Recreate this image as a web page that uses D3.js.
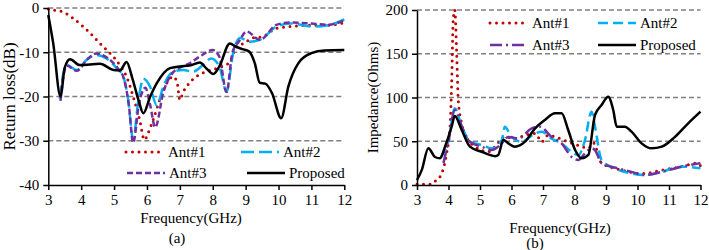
<!DOCTYPE html>
<html>
<head>
<meta charset="utf-8">
<script src="https://cdn.jsdelivr.net/npm/d3@7"></script>
<style>
    body { margin: 0; background: #fff; }
    text { font-family: "Liberation Serif", "Times New Roman", serif; fill: #000; }
    .grid line { stroke: #808080; stroke-dasharray: 5 3; stroke-width: 1.3; }
    .axis path, .axis line { stroke: #000; stroke-width: 1.5; }
</style>
</head>
<body>
<svg id="chart" width="709" height="250"></svg>
<script>
'use strict';

// Series names
const seriesNames = ['Ant#1', 'Ant#2', 'Ant#3', 'Proposed'];

// (a) Return loss (dB), [GHz, dB]
const rlAnt1 = [[3, -0.2], [3.2, -0.5], [3.45, -0.9], [3.75, -2.3], [4.06, -4.2], [4.3, -5.9], [4.57, -8], [4.8, -9.7],
    [4.98, -11], [5.2, -13.2], [5.38, -15.5], [5.58, -20], [5.78, -25.3], [5.92, -29.8], [6.05, -28], [6.2, -25],
    [6.4, -20.5], [6.6, -17], [6.8, -15.5], [6.92, -17], [7.0, -20.8], [7.1, -19], [7.2, -17.8], [7.5, -15.5],
    [7.8, -14.4], [8.1, -13.7], [8.3, -13.2], [8.52, -12.1], [8.73, -8.7], [8.98, -7.9], [9.18, -6.8],
    [9.5, -6.5], [9.94, -4.6], [10.35, -4.2], [11.05, -3.9], [11.5, -3.9], [12, -3.3]];
const rlAnt2 = [[3.35, -20.5], [3.45, -15], [3.56, -12.9], [3.86, -14], [4.17, -11.7], [4.47, -10.6], [4.77, -11.4],
    [5.08, -13.6], [5.28, -15.5], [5.43, -20.8], [5.58, -29.8], [5.74, -20.8], [5.89, -16], [6.09, -17.7],
    [6.3, -22], [6.5, -17.7], [6.8, -14.4], [7.1, -14], [7.4, -14.4], [7.7, -12.9], [7.95, -11.4], [8.2, -13.2],
    [8.42, -18.9], [8.62, -10.2], [8.83, -6.8], [9.13, -7.6], [9.43, -7.2], [9.94, -4.2], [10.35, -3.5],
    [11.05, -4.2], [11.5, -3.9], [12, -2.6]];
const rlAnt3 = [[3.37, -21], [3.47, -15], [3.56, -13], [3.86, -14.2], [4.2, -11.5], [4.45, -10.3], [4.8, -11.3],
    [5.1, -13.5], [5.3, -16], [5.45, -22], [5.58, -30.5], [5.75, -22], [5.95, -18], [6.1, -22], [6.25, -27],
    [6.5, -19], [6.8, -14.5], [7.0, -13.5], [7.3, -12.5], [7.6, -11], [8.0, -9.5], [8.2, -11], [8.42, -19],
    [8.6, -10], [8.8, -7.5], [9.03, -5.3], [9.43, -7.2], [9.94, -3.8], [10.35, -3.3], [11.0, -3.5],
    [11.5, -3.8], [12, -2.8]];
const rlProp = [[3, -1.6], [3.15, -8], [3.37, -20], [3.5, -13.5], [3.66, -11.6], [3.96, -12.9], [4.57, -12.6],
    [4.98, -14], [5.18, -14.1], [5.38, -12.2], [5.56, -16], [5.75, -21], [5.89, -23.8], [6.1, -20], [6.3, -17],
    [6.7, -13.6], [7.0, -13.2], [7.3, -13], [7.61, -12.3], [7.8, -13.6], [8.02, -14.9], [8.2, -13.2],
    [8.52, -8], [8.7, -8.7], [8.9, -9.3], [9.1, -9.8], [9.28, -12.5], [9.43, -16.9], [9.6, -17.1],
    [9.8, -19.2], [10.08, -24.9], [10.3, -17.7], [10.6, -12.5], [11.0, -10.2], [11.4, -9.6], [12, -9.5]];

// (b) Impedance (Ohms), [GHz, Ohms]
const zAnt1 = [[3, 1], [3.47, 1], [3.57, 4], [3.78, 13], [3.94, 36], [4.05, 67], [4.1, 116], [4.15, 189],
    [4.2, 200], [4.26, 150], [4.31, 97], [4.42, 70], [4.63, 51], [4.84, 44], [5.26, 38], [5.48, 44],
    [5.79, 55], [6.11, 53], [6.43, 57], [6.75, 59], [6.96, 49.5], [7.17, 57], [7.38, 55], [7.8, 49.5],
    [8.23, 44], [8.44, 42], [8.6, 48], [8.86, 25], [9.5, 17], [10.13, 13], [10.77, 17], [11.4, 21],
    [11.9, 25], [12, 22]];
const zAnt2 = [[3.75, 32], [4.0, 51], [4.2, 87.6], [4.42, 67], [4.68, 49.5], [5.05, 45.7], [5.37, 42],
    [5.69, 51], [5.79, 66.7], [6.0, 55], [6.32, 49.5], [6.75, 59], [6.96, 61], [7.27, 53], [7.59, 47.6],
    [7.91, 38], [8.12, 34], [8.33, 51], [8.54, 83.8], [8.65, 66.7], [8.86, 28.6], [9.28, 19], [9.81, 13.3],
    [10.24, 11.4], [10.77, 15.2], [11.4, 21], [12, 19]];
const zAnt3 = [[3.84, 25], [4.0, 51], [4.2, 85.7], [4.42, 67], [4.68, 49.5], [5.05, 43.8], [5.37, 40],
    [5.69, 47.6], [5.9, 55], [6.22, 53], [6.64, 64.8], [6.9, 66.7], [7.27, 55], [7.59, 47.6], [7.91, 32],
    [8.12, 28.6], [8.33, 36], [8.54, 42], [8.65, 40], [8.86, 25], [9.39, 19], [9.81, 15], [10.24, 11.4],
    [10.77, 15], [11.4, 21], [12, 25]];
const zProp = [[3, 5.7], [3.15, 17], [3.36, 42], [3.57, 32], [3.73, 30.5], [3.89, 43.8], [4.1, 66.7],
    [4.2, 78.9], [4.42, 62.9], [4.68, 43.8], [5.05, 38], [5.48, 33], [5.58, 34.3], [5.74, 51.4], [5.9, 47.6],
    [6.11, 43.8], [6.43, 49.5], [6.75, 64.8], [7.06, 74.3], [7.38, 81.9], [7.59, 81.9], [7.8, 62.9],
    [8.02, 40], [8.23, 30.5], [8.44, 34.3], [8.65, 80], [8.86, 91.4], [9.07, 101], [9.23, 85.7],
    [9.34, 66.7], [9.6, 66.7], [9.81, 61], [10.13, 47.6], [10.45, 41.9], [10.77, 43.8], [11.19, 55],
    [11.61, 70.5], [12, 83.8]];

// Ticks
const xTicks = [3, 4, 5, 6, 7, 8, 9, 10, 11, 12];
const rlTicks = [-40, -30, -20, -10, 0];
const zTicks = [0, 50, 100, 150, 200];

const svg = d3.select('#chart');

// Line styles
const styles = {
    'Ant#1': {color: '#c00000', width: 3, dash: '0 6.5', cap: 'round'},
    'Ant#2': {color: '#00b0f0', width: 2.5, dash: '13 5', cap: 'butt'},
    'Ant#3': {color: '#7030a0', width: 2.5, dash: '6 3', cap: 'butt'},
    'Proposed': {color: '#000', width: 2.5, dash: null, cap: 'butt'}
};

function drawPanel(cfg) {
    const g = svg.append('g');
    const x = d3.scaleLinear().domain([3, 12]).range(cfg.xRange);
    const y = d3.scaleLinear().domain(cfg.yDomain).range(cfg.yRange);

    // Grid
    g.append('g').attr('class', 'grid')
        .selectAll('line')
        .data(cfg.yTicks.filter(d => d !== cfg.yDomain[0]))
        .join('line')
        .attr('x1', cfg.xRange[0]).attr('x2', cfg.xRange[1])
        .attr('y1', d => y(d)).attr('y2', d => y(d));

    // Lines
    const line = d3.line().x(d => x(d[0])).y(d => y(d[1])).curve(d3.curveMonotoneX);
    cfg.series.forEach((s, i) => {
        const st = Object.assign({}, styles[seriesNames[i]], cfg.override[seriesNames[i]] || {});
        g.append('path')
            .attr('d', line(s))
            .attr('fill', 'none')
            .attr('stroke', st.color)
            .attr('stroke-width', st.width)
            .attr('stroke-dasharray', st.dash)
            .attr('stroke-linecap', st.cap)
            .attr('stroke-linejoin', 'round');
    });

    // Axes
    const xAxis = g.append('g').attr('class', 'axis')
        .attr('transform', `translate(0,${cfg.yRange[0]})`)
        .call(d3.axisBottom(x).tickValues(xTicks).tickSize(5).tickSizeOuter(0).tickPadding(4));
    xAxis.selectAll('text').attr('font-size', 15).attr('font-family', '"Liberation Serif", serif');
    const yAxis = g.append('g').attr('class', 'axis')
        .attr('transform', `translate(${cfg.xRange[0]},0)`)
        .call(d3.axisLeft(y).tickValues(cfg.yTicks).tickSize(5).tickSizeOuter(0).tickPadding(4)
            .tickFormat(d => d < 0 ? '-' + Math.abs(d) : d));
    yAxis.selectAll('text').attr('font-size', 15).attr('font-family', '"Liberation Serif", serif');

    // Axis titles
    g.append('text')
        .attr('x', cfg.xLabelX).attr('y', cfg.xLabelY)
        .attr('text-anchor', 'middle').attr('font-size', 15)
        .text('Frequency(GHz)');
    g.append('text')
        .attr('x', cfg.capX).attr('y', cfg.capY)
        .attr('text-anchor', 'middle').attr('font-size', 15)
        .text(cfg.caption);
    g.append('text')
        .attr('transform', `translate(${cfg.yLabelX},${(cfg.yRange[0] + cfg.yRange[1]) / 2}) rotate(-90)`)
        .attr('text-anchor', 'middle').attr('font-size', cfg.yLabelSize)
        .text(cfg.yLabel);

    // Legend
    const leg = g.append('g');
    cfg.legend.forEach((p, i) => {
        const name = seriesNames[i];
        const st = Object.assign({}, styles[name], cfg.override[name] || {});
        leg.append('line')
            .attr('x1', p[0]).attr('x2', p[0] + 38)
            .attr('y1', p[1]).attr('y2', p[1])
            .attr('stroke', st.color)
            .attr('stroke-width', st.width)
            .attr('stroke-dasharray', st.dash)
            .attr('stroke-linecap', st.cap);
        leg.append('text')
            .attr('x', p[0] + 42).attr('y', p[1] + 5)
            .attr('font-size', 15)
            .text(name);
    });
}

// (a)
drawPanel({
    xRange: [48.3, 344.3],
    yDomain: [-40, 0],
    yRange: [185, 8],
    yTicks: rlTicks,
    series: [rlAnt1, rlAnt2, rlAnt3, rlProp],
    override: {},
    xLabelX: 191, xLabelY: 223, capX: 177, capY: 243,
    yLabel: 'Return loss(dB)', yLabelX: 15, yLabelSize: 17,
    caption: '(a)',
    legend: [[126, 152], [241, 152], [127, 173], [247, 173]]
});

// (b)
drawPanel({
    xRange: [417, 700.5],
    yDomain: [0, 200],
    yRange: [185, 10],
    yTicks: zTicks,
    series: [zAnt1, zAnt2, zAnt3, zProp],
    override: {'Ant#2': {dash: '10 5'}, 'Ant#3': {dash: '12 4 2 4'}},
    xLabelX: 560, xLabelY: 233, capX: 535, capY: 248,
    yLabel: 'Impedance(Ohms)', yLabelX: 378, yLabelSize: 15,
    caption: '(b)',
    legend: [[490, 23], [598, 23], [490, 45], [598, 45]]
});
</script>
</body>
</html>
